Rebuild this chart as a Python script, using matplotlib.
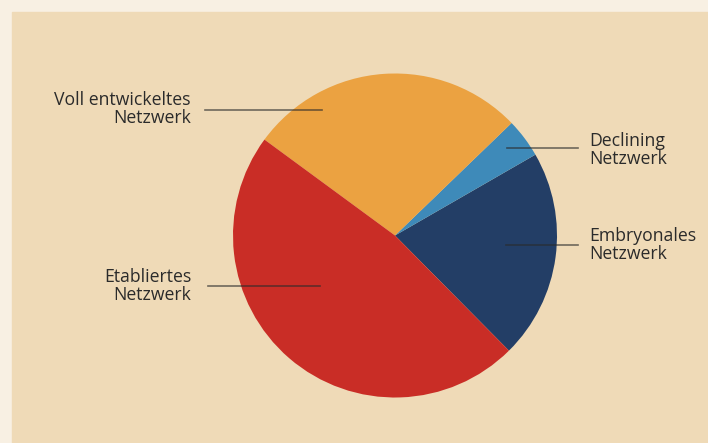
import matplotlib
matplotlib.use('Agg')
import matplotlib.pyplot as plt
from matplotlib.patches import Rectangle

plt.rcParams['font.family'] = ['Open Sans', 'DejaVu Sans']

# Anteile (gegen den Uhrzeigersinn ab Startwinkel)
labels = ['Embryonales\nNetzwerk', 'Declining\nNetzwerk',
          'Voll entwickeltes\nNetzwerk', 'Etabliertes\nNetzwerk']
values = [20.9, 3.9, 27.7, 47.5]
colors = ['#233e66', '#3e8ab9', '#eba241', '#c92d26']

W, H = 708, 443
fig = plt.figure(figsize=(W / 100, H / 100), dpi=100)
fig.patch.set_facecolor('#f8f0e3')
ax = fig.add_axes([0, 0, 1, 1])

# Hintergrundpanel
ax.add_patch(Rectangle((12, 0), W - 12, H - 12, color='#efdab7', zorder=0))

cx, cy, r = 395, H - 235.5, 162
ax.pie(values, colors=colors, startangle=-45.3, counterclock=True,
       center=(cx, cy), radius=r, frame=True,
       wedgeprops=dict(linewidth=0, antialiased=True))
ax.set_xlim(0, W)
ax.set_ylim(0, H)
ax.set_aspect('equal')
ax.axis('off')

# Beschriftungen mit Linien
lab_pos = [
    # (text x, text y, ha, linie x0, linie x1, linie y)
    (589, 245, 'left', 506, 578, 245),
    (589, 150, 'left', 507, 578, 148),
    (191, 109, 'right', 205, 322, 110),
    (191, 286, 'right', 208, 320, 286),
]
for lab, (tx, ty, ha, x0, x1, ly) in zip(labels, lab_pos):
    ax.plot([x0, x1], [H - ly, H - ly], color='#2a2a2a', alpha=0.65,
            linewidth=1.2, zorder=5)
    ax.text(tx, H - ty, lab, ha=ha, va='center', fontsize=12.7,
            color='#2b2b2b', linespacing=1.05, zorder=6)

fig.savefig('out.png', dpi=100, facecolor=fig.get_facecolor())
